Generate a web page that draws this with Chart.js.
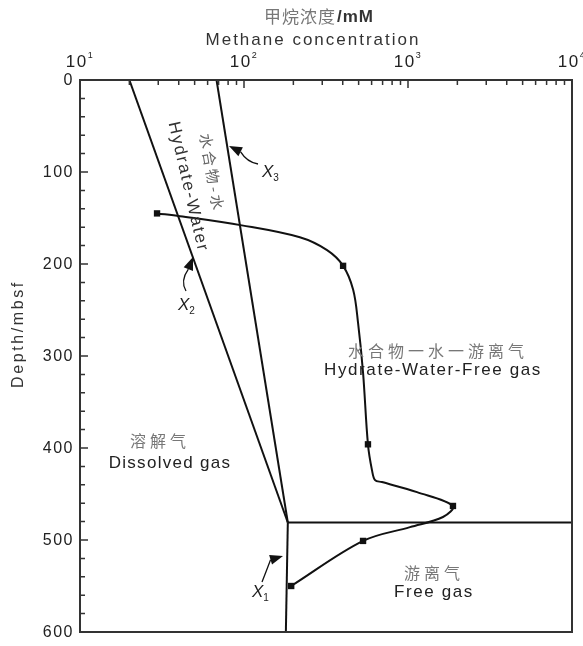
<!DOCTYPE html>
<html>
<head>
<meta charset="utf-8">
<script src="https://cdn.jsdelivr.net/npm/chart.js@4"></script>
<style>
  html, body { margin: 0; padding: 0; background: #fff; }
  #wrap { width: 583px; height: 646px; }
</style>
</head>
<body>
<div id="wrap"><canvas id="chart"></canvas></div>
<script>
// axis ticks
const xTickValues = [10, 100, 1000, 10000];
const xTickExponents = ['1', '2', '3', '4'];
const yTickValues = [0, 100, 200, 300, 400, 500, 600];

// phase boundaries (methane mM, depth mbsf)
const x2LineX = [20, 185];
const x2LineY = [0, 481];
const x3LineX = [68, 185];
const x3LineY = [0, 481];
const x1LineX = [185, 180];
const x1LineY = [481, 600];
const freeGasX = [185, 10000];
const freeGasY = [481, 481];

// measured methane concentration (squares)
const measX = [29.5, 402, 570, 1880, 532, 194];
const measY = [145, 202, 396, 463, 501, 550];

// profile curve
const curveX = [29.5, 40.7, 97, 219, 321, 402, 463, 496, 532, 570, 603, 630, 693, 1135, 1880, 1634, 1028, 532, 194];
const curveY = [145, 148, 158, 171, 185, 202, 228, 264, 318, 396, 424, 435, 437, 448, 463, 475, 486, 501, 550];

const toPoints = (xs, ys) => xs.map((x, i) => ({ x: x, y: ys[i] }));

const LATIN = '"Liberation Sans", Arial, sans-serif';
const CJK = '"Noto Sans CJK SC", sans-serif';

function text(ctx, str, x, y, font, color, spacing, angle, align) {
    ctx.save();
    ctx.font = font;
    ctx.fillStyle = color;
    ctx.letterSpacing = (spacing || 0) + 'px';
    ctx.textAlign = align || 'center';
    ctx.textBaseline = 'middle';
    ctx.translate(x, y);
    if (angle) ctx.rotate(angle * Math.PI / 180);
    ctx.fillText(str, 0, 0);
    ctx.restore();
}

function xLabel(ctx, x, y, sub) {
    // italic X with subscript
    ctx.save();
    ctx.fillStyle = '#222';
    ctx.textBaseline = 'alphabetic';
    ctx.textAlign = 'left';
    ctx.font = 'italic 17px ' + LATIN;
    ctx.fillText('X', x, y);
    const w = ctx.measureText('X').width;
    ctx.font = '10px ' + LATIN;
    ctx.fillText(sub, x + w, y + 4);
    ctx.restore();
}

function arrow(ctx, tip, from, tail, ctrl) {
    // filled head from "from" toward "tip", thin curved tail
    const ang = Math.atan2(tip[1] - from[1], tip[0] - from[0]);
    const len = 13, half = 5;
    const bx = tip[0] - len * Math.cos(ang), by = tip[1] - len * Math.sin(ang);
    ctx.save();
    ctx.fillStyle = '#111';
    ctx.strokeStyle = '#111';
    ctx.beginPath();
    ctx.moveTo(tip[0], tip[1]);
    ctx.lineTo(bx + half * Math.sin(ang), by - half * Math.cos(ang));
    ctx.lineTo(bx - half * Math.sin(ang), by + half * Math.cos(ang));
    ctx.closePath();
    ctx.fill();
    ctx.lineWidth = 1.3;
    ctx.beginPath();
    ctx.moveTo(bx, by);
    ctx.quadraticCurveTo(ctrl[0], ctrl[1], tail[0], tail[1]);
    ctx.stroke();
    ctx.restore();
}

const decorPlugin = {
    id: 'decor',
    afterDraw(chart) {
        const ctx = chart.ctx;
        const a = chart.chartArea;
        const xs = chart.scales.x, ys = chart.scales.y;

        // ticks (inward)
        ctx.save();
        ctx.strokeStyle = '#333';
        ctx.lineWidth = 1.5;
        ctx.beginPath();
        for (let d = 10; d < 10000; d *= 10) {
            for (let m = 1; m <= 9; m++) {
                const px = xs.getPixelForValue(d * m);
                const len = m === 1 ? 8 : 5;
                ctx.moveTo(px, a.top);
                ctx.lineTo(px, a.top + len);
            }
        }
        for (let v = 0; v <= 600; v += 20) {
            const py = ys.getPixelForValue(v);
            const len = v % 100 === 0 ? 8 : 5;
            ctx.moveTo(a.left, py);
            ctx.lineTo(a.left + len, py);
        }
        ctx.stroke();

        // frame
        ctx.lineWidth = 2;
        ctx.strokeStyle = '#333';
        ctx.strokeRect(a.left, a.top, a.right - a.left, a.bottom - a.top);
        ctx.restore();

        // x tick labels 10^n
        xTickValues.forEach((v, i) => {
            const px = xs.getPixelForValue(v);
            ctx.save();
            ctx.fillStyle = '#222';
            ctx.textBaseline = 'alphabetic';
            ctx.textAlign = 'left';
            ctx.letterSpacing = '1.5px';
            ctx.font = '17px ' + LATIN;
            const wb = ctx.measureText('10').width;
            ctx.font = '9px ' + LATIN;
            const we = ctx.measureText(xTickExponents[i]).width;
            const x0 = px - (wb + we) / 2;
            ctx.font = '17px ' + LATIN;
            ctx.fillText('10', x0, a.top - 13);
            ctx.font = '9px ' + LATIN;
            ctx.fillText(xTickExponents[i], x0 + wb, a.top - 22);
            ctx.restore();
        });

        // y tick labels
        yTickValues.forEach(v => {
            const py = ys.getPixelForValue(v);
            ctx.save();
            ctx.fillStyle = '#222';
            ctx.font = '16px ' + LATIN;
            ctx.letterSpacing = '1.5px';
            ctx.textAlign = 'right';
            ctx.textBaseline = 'middle';
            ctx.fillText(String(v), a.left - 6, py + 1);
            ctx.restore();
        });

        // axis titles
        text(ctx, '甲烷浓度', 336, 17, '17px ' + CJK, '#777', 1, 0, 'right');
        text(ctx, '/mM', 337, 17, 'bold 17px ' + LATIN, '#333', 1, 0, 'left');
        text(ctx, 'Methane concentration', 313, 40, '17px ' + LATIN, '#333', 2);
        text(ctx, 'Depth/mbsf', 19, 334, '16px ' + LATIN, '#333', 2.6, -90);

        // region labels
        text(ctx, '水合物-水', 212, 173, '15px ' + CJK, '#666', 3, 80);
        text(ctx, 'Hydrate-Water', 188, 187, '17px ' + LATIN, '#333', 1.8, 77);
        text(ctx, '水合物一水一游离气', 438, 351, '16px ' + CJK, '#777', 4);
        text(ctx, 'Hydrate-Water-Free gas', 433, 370, '17px ' + LATIN, '#222', 1.6);
        text(ctx, '溶解气', 160, 441, '16px ' + CJK, '#777', 4);
        text(ctx, 'Dissolved gas', 170, 463, '17px ' + LATIN, '#222', 1.3);
        text(ctx, '游离气', 434, 573, '16px ' + CJK, '#777', 4);
        text(ctx, 'Free gas', 434, 592, '17px ' + LATIN, '#222', 1.6);

        // boundary markers
        arrow(ctx, [229, 146], [243, 153], [258, 164], [247, 162]);
        xLabel(ctx, 262, 177, '3');
        arrow(ctx, [193, 257], [188, 270], [186, 291], [180, 281]);
        xLabel(ctx, 178, 310, '2');
        arrow(ctx, [283, 556], [270, 560], [262, 582], [266, 572]);
        xLabel(ctx, 252, 597, '1');
    }
};

const lineStyle = {
    showLine: true,
    borderColor: '#111',
    borderWidth: 2,
    pointRadius: 0,
    tension: 0
};

new Chart(document.getElementById('chart'), {
    type: 'scatter',
    data: {
        datasets: [
            { ...lineStyle, label: 'X2', data: toPoints(x2LineX, x2LineY) },
            { ...lineStyle, label: 'X3', data: toPoints(x3LineX, x3LineY) },
            { ...lineStyle, label: 'X1', data: toPoints(x1LineX, x1LineY) },
            { ...lineStyle, label: 'Free gas boundary', data: toPoints(freeGasX, freeGasY) },
            { ...lineStyle, label: 'Profile', data: toPoints(curveX, curveY), tension: 0.35 },
            {
                label: 'Measured',
                data: toPoints(measX, measY),
                showLine: false,
                pointStyle: 'rect',
                pointRadius: 4.5,
                backgroundColor: '#111',
                borderColor: '#111',
                borderWidth: 0
            }
        ]
    },
    options: {
        responsive: true,
        maintainAspectRatio: false,
        animation: false,
        devicePixelRatio: 1,
        layout: { padding: { left: 0, right: 11, top: 0, bottom: 14 } },
        scales: {
            x: {
                type: 'logarithmic',
                position: 'top',
                min: 10,
                max: 10000,
                grid: { display: false },
                border: { display: false },
                ticks: { display: false },
                afterFit: s => { s.height = 80; }
            },
            y: {
                type: 'linear',
                reverse: true,
                min: 0,
                max: 600,
                grid: { display: false },
                border: { display: false },
                ticks: { display: false },
                afterFit: s => { s.width = 80; }
            }
        },
        plugins: {
            legend: { display: false },
            tooltip: { enabled: false }
        }
    },
    plugins: [decorPlugin]
});
</script>
</body>
</html>
